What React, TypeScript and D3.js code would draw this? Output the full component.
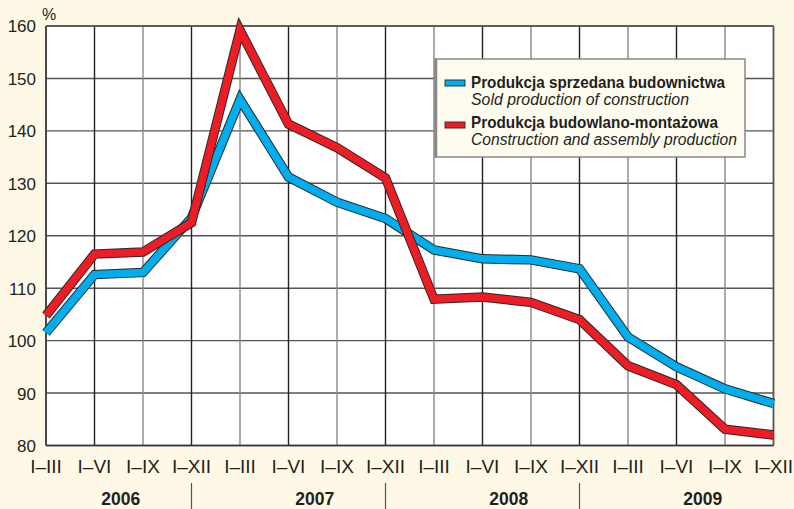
import React from "react";
import * as d3 from "d3";

const periods = ["I–III", "I–VI", "I–IX", "I–XII", "I–III", "I–VI", "I–IX", "I–XII", "I–III", "I–VI", "I–IX", "I–XII", "I–III", "I–VI", "I–IX", "I–XII"];
const years = ["2006", "2007", "2008", "2009"];
const soldProduction = [101.5, 112.6, 113, 123.4, 146, 131.2, 126.4, 123.3, 117.3, 115.6, 115.4, 113.7, 100.7, 95, 90.8, 88];
const assemblyProduction = [104.8, 116.5, 116.9, 122.5, 159.2, 141.3, 136.8, 131, 107.9, 108.3, 107.3, 104, 95.2, 91.6, 83.1, 82];
const yTicks = [80, 90, 100, 110, 120, 130, 140, 150, 160];
const legendPl = ["Produkcja sprzedana budownictwa", "Produkcja budowlano-montażowa"];
const legendEn = ["Sold production of construction", "Construction and assembly production"];

const W = 794, H = 509;
const left = 46, right = 773.5, top = 26, bottom = 445.5;
const BG = "#FEF9E6";
const BLUE = "#00ADEE";
const RED = "#EE1C25";
const FONT = "'Liberation Sans Narrow', 'Arial Narrow', 'Liberation Sans', Arial, sans-serif";
const FONT2 = "'Liberation Sans', Arial, sans-serif";

export default function App() {
  const x = d3.scaleLinear().domain([0, periods.length - 1]).range([left, right]);
  const y = d3.scaleLinear().domain([80, 160]).range([bottom, top]);
  const line = d3.line<number>().x((_, i) => x(i)).y((d) => y(d));
  const series = [
    { data: soldProduction, color: BLUE },
    { data: assemblyProduction, color: RED },
  ];
  const legendColors = [BLUE, RED];
  return (
    <svg width={W} height={H} style={{ position: "absolute", left: 0, top: 0, display: "block" }}>
      <rect x={0} y={0} width={W} height={H} fill={BG} />
      <rect x={left} y={top} width={right - left} height={bottom - top} fill="#fff" />
      {yTicks.map((t) => (
        <line key={"h" + t} x1={left} x2={right} y1={y(t)} y2={y(t)} stroke="#555" strokeWidth={1.4} />
      ))}
      {periods.map((_, i) => (
        <line key={"v" + i} x1={x(i)} x2={x(i)} y1={top} y2={bottom} stroke={i % 2 === 1 ? "#222" : "#888"} strokeWidth={1.4} />
      ))}
      <line x1={left} x2={left} y1={top} y2={bottom} stroke="#333" strokeWidth={1.6} />
      <line x1={left} x2={right} y1={bottom} y2={bottom} stroke="#333" strokeWidth={1.6} />
      <line x1={right} x2={right} y1={top} y2={bottom} stroke="#555" strokeWidth={1.4} />
      <line x1={left} x2={right} y1={top} y2={top} stroke="#555" strokeWidth={1.4} />
      {series.map((s, k) => (
        <g key={"s" + k}>
          <path d={line(s.data) || ""} fill="none" stroke="#2a2a2a" strokeWidth={9.5} strokeLinejoin="miter" />
          <path d={line(s.data) || ""} fill="none" stroke={s.color} strokeWidth={7.5} strokeLinejoin="miter" />
        </g>
      ))}
      {/* legend */}
      <rect x={435} y={59} width={310} height={98} fill="#FEFCEF" stroke="#888" strokeWidth={1.5} />
      <line x1={436} x2={436} y1={59} y2={157} stroke="#888" strokeWidth={2.5} />
      {legendPl.map((t, k) => (
        <g key={"lg" + k}>
          <rect x={445} y={80 + k * 42} width={20} height={6} fill={legendColors[k]} stroke="#333" strokeWidth={1} />
          <text x={471} y={88 + k * 40} fontFamily={FONT} fontWeight="bold" fontSize={16.5} fill="#231f20"
            textLength={[254, 247][k]} lengthAdjust="spacingAndGlyphs">{t}</text>
          <text x={471} y={105 + k * 40} fontFamily={FONT} fontStyle="italic" fontSize={16} fill="#231f20"
            textLength={[218, 266][k]} lengthAdjust="spacingAndGlyphs">{legendEn[k]}</text>
        </g>
      ))}
      {/* y axis labels */}
      {yTicks.map((t) => (
        <text key={"yl" + t} x={36} y={y(t)} dy="0.38em" textAnchor="end" fontFamily={FONT2} fontSize={17} fill="#231f20">{t}</text>
      ))}
      <text x={42} y={20} fontFamily={FONT2} fontSize={16} fill="#231f20">%</text>
      {/* x axis labels */}
      {periods.map((p, i) => (
        <text key={"xl" + i} x={x(i)} y={473} textAnchor="middle" fontFamily={FONT} fontSize={19} fill="#231f20">{p}</text>
      ))}
      {years.map((yr, k) => {
        const mid = d3.mean([0, 1, 2, 3].map((j) => x(k * 4 + j))) as number;
        return (
          <text key={"yr" + k} x={mid + 2} y={505} textAnchor="middle" fontFamily={FONT2} fontWeight="bold" fontSize={17.5} fill="#231f20">{yr}</text>
        );
      })}
      {[3, 7, 11].map((i) => (
        <line key={"sep" + i} x1={x(i)} x2={x(i)} y1={483} y2={H} stroke="#555" strokeWidth={1.2} />
      ))}
    </svg>
  );
}
